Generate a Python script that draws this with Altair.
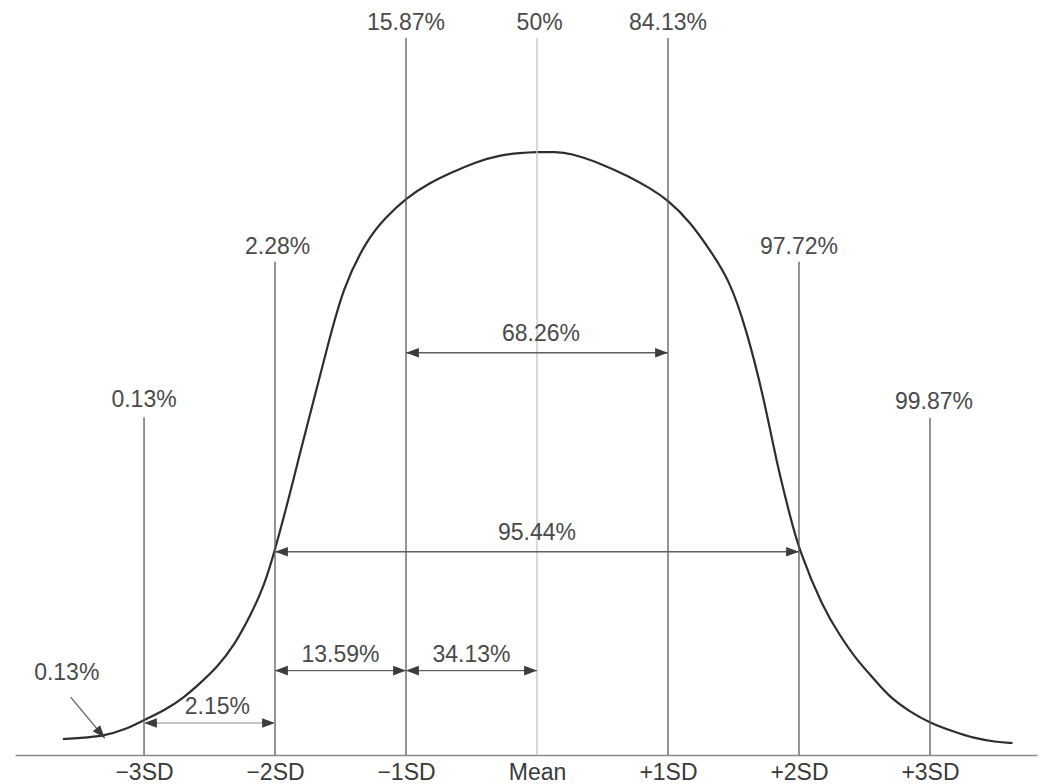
import altair as alt
import pandas as pd

# ---- data (x in SD units, y in % of peak height) ----
curve_x = [-3.62, -3.49, -3.31, -3.15, -3.0, -2.84, -2.70, -2.57, -2.44, -2.31, -2.19, -2.08,
           -2.0, -1.89, -1.81, -1.71, -1.60, -1.48, -1.30, -1.16, -1.0, -0.82, -0.66, -0.47,
           -0.28, -0.13, 0.0, 0.14, 0.25, 0.48, 0.71, 0.86, 1.0, 1.17, 1.32, 1.47, 1.60, 1.73,
           1.83, 1.93, 2.0, 2.18, 2.31, 2.44, 2.58, 2.69, 2.85, 3.0, 3.19, 3.33, 3.50, 3.63]
curve_y = [2.65, 2.82, 3.15, 4.15, 5.80, 7.46, 9.45, 11.94, 14.59, 18.24, 23.0, 28.2,
           34.0, 43.0, 50.0, 58.4, 67.66, 77.61, 85.41, 89.05, 92.37, 94.86, 96.52, 98.34,
           99.50, 99.83, 100.0, 100.0, 99.83, 98.18, 95.85, 94.03, 92.04, 88.39, 83.75, 78.77,
           70.48, 59.37, 48.42, 39.80, 34.0, 24.54, 19.90, 15.75, 12.44, 9.62, 7.13, 5.31,
           3.81, 2.82, 2.16, 1.99]

sd_positions = [-3, -2, -1, 0, 1, 2, 3]
tick_labels = ["\u22123SD", "\u22122SD", "\u22121SD", "Mean", "+1SD", "+2SD", "+3SD"]
line_tops = [56.0, 81.8, 118.9, 118.9, 118.9, 81.8, 55.9]
line_kind = ["dark", "dark", "dark", "light", "dark", "dark", "dark"]

cum_labels = ["0.13%", "2.28%", "15.87%", "50%", "84.13%", "97.72%", "99.87%"]
cum_x = [-3.0, -1.98, -1.0, 0.02, 1.0, 2.0, 3.03]
cum_y = [58.9, 84.3, 121.4, 121.4, 121.4, 84.3, 58.6]

span_labels = ["68.26%", "95.44%", "13.59%", "34.13%", "2.15%"]
span_start = [-1, -2, -2, -1, -3]
span_end = [1, 2, -1, 0, -2]
span_y = [66.7, 33.7, 14.0, 14.0, 5.3]
span_label_x = [0.03, 0.0, -1.50, -0.50, -2.44]
span_label_y = [69.8, 36.8, 16.6, 16.6, 8.0]
span_style = ["solid", "solid", "solid", "solid", "faint"]

tail_label = "0.13%"
tail_label_x = -3.59
tail_label_y = 13.6
tail_arrow_x = [-3.56, -3.30]
tail_arrow_y = [9.6, 2.8]

# ---- tables ----
curve_df = pd.DataFrame({"x": curve_x, "y": curve_y})
lines_df = pd.DataFrame({"x": sd_positions, "top": line_tops, "kind": line_kind,
                         "base": [0.0] * len(sd_positions)})
dark_lines = lines_df[lines_df["kind"] == "dark"]
light_lines = lines_df[lines_df["kind"] == "light"]
cum_df = pd.DataFrame({"label": cum_labels, "x": cum_x, "y": cum_y})
span_df = pd.DataFrame({"label": span_labels, "x1": span_start, "x2": span_end, "y": span_y,
                        "lx": span_label_x, "ly": span_label_y, "style": span_style})
solid_spans = span_df[span_df["style"] == "solid"]
faint_spans = span_df[span_df["style"] == "faint"]
tail_df = pd.DataFrame({"x": tail_arrow_x, "y": tail_arrow_y})
tail_text_df = pd.DataFrame({"label": [tail_label], "x": [tail_label_x], "y": [tail_label_y]})
tail_head_df = tail_df.iloc[[1]].reset_index(drop=True)

xs = alt.Scale(domain=[-3.985, 3.817], nice=False, zero=False)
ys = alt.Scale(domain=[0, 123.88], nice=False, zero=True)

FONT = "Liberation Sans"
FS = 23
TXT = "#4a4a4a"

label_expr = "[" + ",".join("'" + t + "'" for t in tick_labels) + "][datum.value + 3]"

curve = alt.Chart(curve_df).mark_line(
    color="#2e2e2e", strokeWidth=2.2, interpolate="basis"
).encode(
    x=alt.X("x:Q", scale=xs, axis=alt.Axis(
        values=sd_positions, labelExpr=label_expr, ticks=False, grid=False, title=None,
        domainColor="#8a8a8a", domainWidth=1.6, labelFont=FONT, labelFontSize=FS,
        labelColor="#3a3a3a", labelPadding=6, labelFlush=False)),
    y=alt.Y("y:Q", scale=ys, axis=None),
)

def vrules(df, color):
    return alt.Chart(df).mark_rule(strokeWidth=1.3, color=color).encode(
        x=alt.X("x:Q", scale=xs),
        y=alt.Y("top:Q", scale=ys, axis=None),
        y2="base:Q",
    )

def hrules(df, color):
    return alt.Chart(df).mark_rule(strokeWidth=1.4, color=color).encode(
        x=alt.X("x1:Q", scale=xs), x2="x2:Q", y=alt.Y("y:Q", scale=ys, axis=None),
    )

left_head = "M0,0L2.4,-0.9L2.4,0.9Z"
right_head = "M0,0L-2.4,-0.9L-2.4,0.9Z"

def heads(df, xfield, shape, angle=0):
    return alt.Chart(df).mark_point(shape=shape, filled=True, size=115, color="#3c3c3c",
                                    opacity=1, angle=angle).encode(
        x=alt.X(xfield + ":Q", scale=xs), y=alt.Y("y:Q", scale=ys, axis=None)
    )

def texts(df, xf, yf):
    return alt.Chart(df).mark_text(font=FONT, fontSize=FS, color=TXT, baseline="middle").encode(
        x=alt.X(xf + ":Q", scale=xs), y=alt.Y(yf + ":Q", scale=ys, axis=None),
        text="label:N"
    )

tail_line = alt.Chart(tail_df).mark_line(color="#5a5a5a", strokeWidth=1.2).encode(
    x=alt.X("x:Q", scale=xs), y=alt.Y("y:Q", scale=ys, axis=None)
)

chart = alt.layer(
    curve,
    vrules(dark_lines, "#5a5a5a"), vrules(light_lines, "#c4c4c4"),
    hrules(solid_spans, "#5f5f5f"), hrules(faint_spans, "#b0b0b0"),
    heads(span_df, "x1", left_head), heads(span_df, "x2", right_head),
    tail_line, heads(tail_head_df, "x", right_head, 50),
    texts(cum_df, "x", "y"), texts(span_df, "lx", "ly"), texts(tail_text_df, "x", "y"),
).properties(
    width=1022, height=747,
    autosize=alt.AutoSizeParams(type="none"),
    padding={"left": 7, "top": 0, "right": 2, "bottom": 30},
    background="white",
).configure_view(stroke=None)

chart.save("out.html", embed_options={"renderer": "svg", "actions": False})
